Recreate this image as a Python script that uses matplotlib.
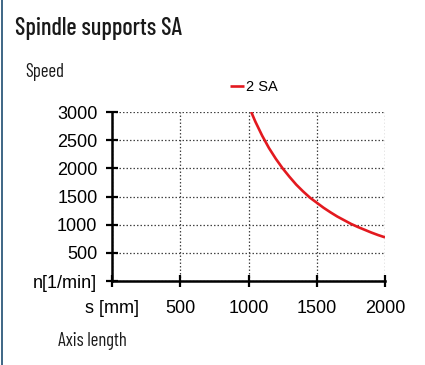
import matplotlib
matplotlib.use("Agg")
import matplotlib.pyplot as plt
from matplotlib.lines import Line2D

# Speed limit of the spindle support over axis length
axis_length_mm = [1020, 1050, 1100, 1150, 1200, 1250, 1300, 1350, 1400, 1450, 1500,
                  1550, 1600, 1650, 1700, 1750, 1800, 1850, 1900, 1950, 2000]
speed_rpm = [3000, 2830, 2580, 2360, 2170, 2000, 1850, 1710, 1590, 1480, 1390,
             1300, 1220, 1145, 1080, 1015, 960, 910, 860, 815, 775]

x_ticks = [0, 500, 1000, 1500, 2000]
x_tick_labels = ["s [mm]", "500", "1000", "1500", "2000"]
y_ticks = [0, 500, 1000, 1500, 2000, 2500, 3000]
y_tick_labels = ["n[1/min]", "500", "1000", "1500", "2000", "2500", "3000"]

series_name = "2 SA"
title = "Spindle supports SA"
y_caption = "Speed"
x_caption = "Axis length"

W, H = 425, 365
fig = plt.figure(figsize=(W / 100, H / 100), dpi=100)
fig.patch.set_facecolor("white")

narrow = ["Barlow Condensed", "DejaVu Sans"]
tick_font = ["Liberation Sans", "DejaVu Sans"]

# left frame rule
fig.add_artist(Line2D([1.5 / W, 1.5 / W], [0, 1], transform=fig.transFigure,
                      color="#2f5b7c", lw=1.3))

fig.text(15 / W, 1 - 35 / H, title, fontsize=17.5, color="#1a1a1a",
         family=narrow, weight="medium", ha="left", va="baseline")
fig.text(25 / W, 1 - 77 / H, y_caption, fontsize=13.5, color="#1a1a1a",
         family=narrow, ha="left", va="baseline")
fig.text(58 / W, 1 - 346 / H, x_caption, fontsize=13.5, color="#1a1a1a",
         family=narrow, ha="left", va="baseline")

ax = fig.add_axes([112 / W, (H - 281) / H, (385 - 112) / W, (281 - 112) / H])
ax.set_xlim(0, 2000)
ax.set_ylim(0, 3000)

ax.plot(axis_length_mm, speed_rpm, color="#e3191f", lw=1.9, label=series_name,
        solid_capstyle="butt", zorder=3)

ax.set_xticks(x_ticks)
ax.set_xticklabels(x_tick_labels, family=tick_font, fontsize=13)
ax.set_yticks(y_ticks)
ax.set_yticklabels(y_tick_labels, family=tick_font, fontsize=13)

ax.tick_params(axis="both", direction="inout", length=9, width=1.6, color="black")
ax.tick_params(axis="x", pad=9)
ax.tick_params(axis="y", pad=6)

for s in ("top", "right"):
    ax.spines[s].set_visible(False)
for s in ("left", "bottom"):
    ax.spines[s].set_linewidth(1.8)
    ax.spines[s].set_zorder(4)

ax.grid(True, linestyle=(0, (1.2, 1.6)), color="#444444", lw=0.9)
ax.set_axisbelow(True)

leg = ax.legend(loc="lower center", bbox_to_anchor=(0.52, 1.07), frameon=False,
                handlelength=0.95, handletextpad=0.15, borderaxespad=0,
                prop={"family": tick_font, "size": 10.5})

fig.savefig("out.png", dpi=100, facecolor="white")
